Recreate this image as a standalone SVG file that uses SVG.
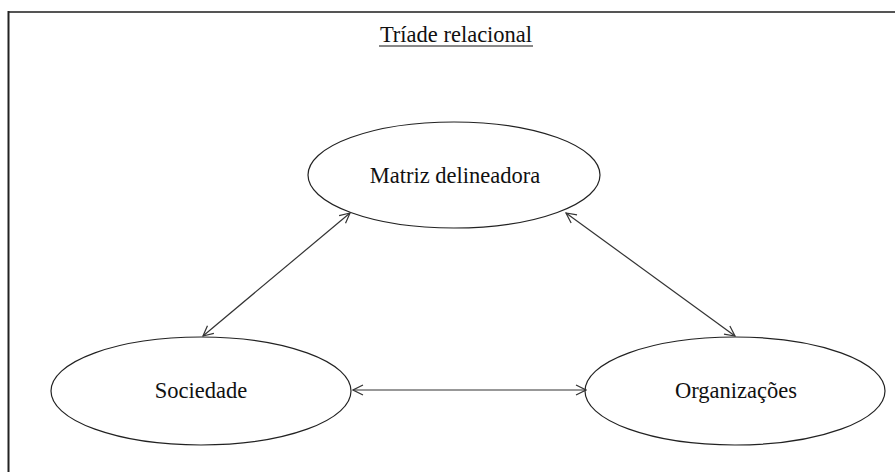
<svg xmlns="http://www.w3.org/2000/svg" width="895" height="472" viewBox="0 0 895 472">
<defs>
<style>
.node ellipse{fill:#fff;stroke:#222;stroke-width:1.2}
.lbl{font-family:'Liberation Serif','Times New Roman',serif;font-size:22.5px;fill:#111;text-anchor:middle}
.conn line{stroke:#333;stroke-width:1.2;fill:none}
</style>
<marker id="ah" viewBox="0 0 12 12" refX="11" refY="6" markerWidth="12" markerHeight="12" markerUnits="userSpaceOnUse" orient="auto-start-reverse">
<path d="M1,1 L11,6 L1,11" fill="none" stroke="#333" stroke-width="1.2"/>
</marker>
</defs>
<rect width="895" height="472" fill="#fff"/>
<g id="frame">
<line x1="8" y1="12" x2="895" y2="12" stroke="#555" stroke-width="2"/>
<line x1="8.5" y1="11" x2="8.5" y2="472" stroke="#222" stroke-width="2"/>
</g>
<g id="title">
<text class="lbl" x="456" y="42" font-family="Liberation Serif, serif">Tríade relacional</text>
<line x1="379" y1="46" x2="533" y2="46" stroke="#111" stroke-width="1"/>
</g>
<g id="matriz" class="node">
<ellipse cx="454" cy="175" rx="146" ry="53"/>
<text class="lbl" x="455" y="183" font-family="Liberation Serif, serif">Matriz delineadora</text>
</g>
<g id="sociedade" class="node">
<ellipse cx="201" cy="391" rx="150" ry="54"/>
<text class="lbl" x="201" y="398" font-family="Liberation Serif, serif">Sociedade</text>
</g>
<g id="organizacoes" class="node">
<ellipse cx="735" cy="391" rx="150" ry="54"/>
<text class="lbl" x="736" y="398" font-family="Liberation Serif, serif">Organizações</text>
</g>
<g id="connectors" class="conn">
<line x1="203" y1="336" x2="350" y2="213" marker-start="url(#ah)" marker-end="url(#ah)"/>
<line x1="735" y1="336" x2="566" y2="213" marker-start="url(#ah)" marker-end="url(#ah)"/>
<line x1="353" y1="390" x2="586" y2="390" marker-start="url(#ah)" marker-end="url(#ah)"/>
</g>
</svg>
